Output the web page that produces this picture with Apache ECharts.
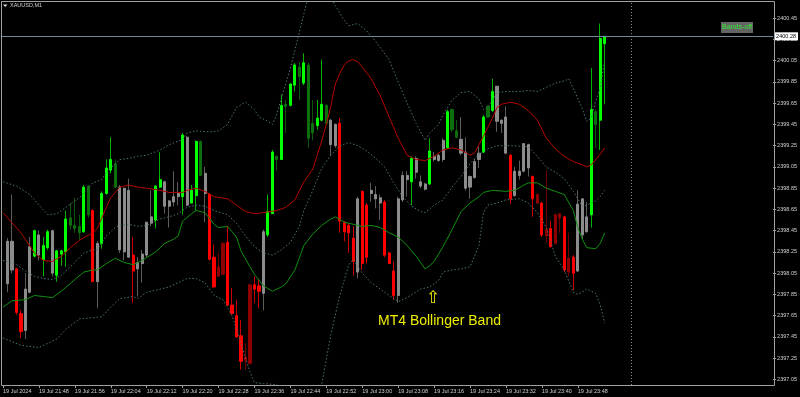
<!DOCTYPE html>
<html><head><meta charset="utf-8">
<script src="https://cdn.jsdelivr.net/npm/echarts@6/dist/echarts.min.js"></script>
<style>html,body{margin:0;padding:0;background:#000;}#c{width:800px;height:397px;}</style>
</head><body><div id="c"></div>
<script>
// ---------------- data ----------------
const symbolTitle = 'XAUUSD,M1';
const sessionDate = '19 Jul';
const sessionYear = '2024';
const firstSlot = '21:40';      // first minute slot on the time axis
const slotCount = 172;          // minute slots shown (incl. chart shift space)
const firstBar = '21:41';       // first visible candle
const separatorTime = '00:00';  // day separator
const bidPrice = 2400.28;
const noteText = 'MT4 Bollinger Band';
const buttonText = 'Bands-off';

const opens = [
2397.95,2398.35,2398.09,2397.67,2397.51,2397.87,2398.21,2398.41,2398.18,2398.29,
2398.45,2398.03,2398.23,2398.25,2398.57,2398.50,2398.49,2398.44,2398.87,2398.64,
2397.97,2398.33,2398.80,2399.02,2399.08,2398.86,2398.25,2398.83,2398.22,2398.09,
2398.14,2398.22,2398.52,2398.55,2398.86,2398.91,2398.68,2398.72,2398.77,2398.77,
2399.33,2398.71,2398.78,2399.29,2398.99,2398.79,2398.20,2398.02,2398.04,2398.34,
2397.75,2397.65,2397.46,2397.23,2397.20,2397.94,2397.93,2397.86,2398.41,2398.61,
2399.15,2399.12,2399.64,2399.63,2399.82,2399.99,2399.84,2400.01,2399.46,2399.44,
2399.49,2399.63,2399.49,2399.25,2399.46,2398.53,2398.50,2398.38,2398.06,2398.82,
2398.69,2398.80,2398.79,2398.76,2398.72,2398.24,2398.07,2397.84,2398.74,2398.97,
2398.91,2399.13,2398.91,2398.89,2398.89,2399.15,2399.11,2399.12,2399.23,2399.59,
2399.39,2399.31,2399.19,2398.86,2398.95,2399.12,2399.19,2399.62,2399.58,2399.81,
2399.49,2399.52,2399.16,2398.78,2399.01,2399.01,2399.26,2398.96,2398.71,2398.71,
2398.40,2398.47,2398.33,2398.57,2398.58,2398.06,2398.20,2398.07,2398.75,2398.44,
2398.60,2399.57,2399.49,2400.21];
const closes = [
2398.35,2398.08,2397.68,2397.50,2397.90,2398.30,2398.45,2398.22,2398.31,2398.44,
2398.05,2398.26,2398.26,2398.56,2398.50,2398.47,2398.43,2398.86,2398.60,2397.97,
2398.33,2398.80,2399.04,2399.12,2398.86,2398.27,2398.85,2398.20,2398.07,2398.15,
2398.23,2398.53,2398.58,2398.87,2398.93,2398.68,2398.73,2398.77,2398.80,2399.35,
2398.69,2398.83,2399.29,2398.97,2398.80,2398.18,2397.92,2398.11,2398.33,2397.75,
2397.67,2397.45,2397.22,2397.26,2397.94,2397.90,2397.88,2398.44,2398.63,2399.19,
2399.12,2399.63,2399.62,2399.83,2400.01,2399.90,2400.03,2399.32,2399.37,2399.51,
2399.64,2399.46,2399.26,2399.45,2398.54,2398.44,2398.43,2398.16,2398.75,2398.14,
2398.20,2398.83,2398.75,2398.71,2398.22,2398.14,2397.84,2398.75,2398.97,2398.93,
2399.13,2399.00,2398.87,2398.84,2399.20,2399.12,2399.16,2399.30,2399.57,2399.40,
2399.33,2399.18,2398.85,2398.96,2399.10,2399.18,2399.52,2399.52,2399.76,2399.48,
2399.46,2399.18,2398.75,2399.01,2398.97,2399.27,2399.04,2398.75,2398.79,2398.41,
2398.46,2398.30,2398.60,2398.61,2398.08,2398.19,2398.05,2398.70,2398.41,2398.58,
2399.59,2399.45,2400.26,2400.28];
const highs = [
2398.38,2398.79,2398.10,2397.70,2398.05,2398.39,2398.46,2398.45,2398.39,2398.46,
2398.46,2398.27,2398.27,2398.64,2398.71,2398.76,2398.60,2398.88,2398.88,2398.65,
2398.35,2398.82,2399.12,2399.33,2399.12,2398.88,2398.85,2398.94,2398.39,2398.20,
2398.27,2398.53,2398.83,2398.88,2399.19,2398.92,2398.74,2399.01,2398.91,2399.37,
2399.34,2398.88,2399.30,2399.30,2399.05,2398.80,2398.32,2398.24,2398.34,2398.49,
2397.91,2397.80,2397.61,2397.39,2397.95,2398.02,2398.00,2398.46,2398.79,2399.21,
2399.16,2399.73,2399.68,2399.84,2400.03,2400.04,2400.12,2400.03,2399.68,2399.68,
2400.06,2399.64,2399.50,2399.46,2399.51,2398.54,2398.52,2398.49,2398.77,2398.83,
2398.71,2398.90,2398.87,2398.79,2398.74,2398.25,2398.16,2398.77,2399.01,2399.01,
2399.15,2399.15,2398.97,2398.90,2399.32,2399.19,2399.17,2399.32,2399.59,2399.60,
2399.49,2399.52,2399.33,2398.97,2399.13,2399.24,2399.54,2399.63,2399.88,2399.81,
2399.50,2399.62,2399.17,2399.05,2399.11,2399.27,2399.27,2398.97,2398.80,2398.72,
2399.01,2398.54,2398.61,2398.61,2398.59,2398.43,2398.22,2398.83,2398.75,2398.72,
2399.98,2399.59,2400.40,2400.28];
const lows = [
2397.87,2398.05,2397.66,2397.44,2397.43,2397.86,2398.20,2398.17,2398.02,2398.27,
2398.02,2397.97,2398.12,2398.11,2398.46,2398.43,2398.36,2398.43,2398.57,2397.97,
2397.72,2398.28,2398.79,2398.99,2398.85,2398.24,2398.17,2398.20,2397.77,2397.83,
2397.96,2398.20,2398.49,2398.47,2398.85,2398.61,2398.48,2398.68,2398.69,2398.60,
2398.68,2398.71,2398.64,2398.97,2398.53,2398.17,2397.91,2398.02,2398.03,2397.74,
2397.66,2397.44,2397.14,2397.14,2397.19,2397.77,2397.72,2397.70,2398.39,2398.61,
2399.02,2399.12,2399.37,2399.62,2399.76,2399.68,2399.82,2399.23,2399.30,2399.40,
2399.48,2399.45,2399.15,2399.23,2398.43,2398.35,2398.24,2398.03,2398.00,2398.08,
2398.14,2398.72,2398.66,2398.55,2398.20,2398.14,2397.80,2397.77,2398.72,2398.77,
2398.69,2398.94,2398.85,2398.83,2398.88,2399.10,2399.10,2399.10,2399.22,2399.38,
2399.32,2399.16,2398.83,2398.75,2398.94,2399.04,2399.18,2399.51,2399.57,2399.38,
2399.37,2399.17,2398.70,2398.77,2398.93,2399.00,2398.96,2398.58,2398.70,2398.39,
2398.33,2398.29,2398.32,2398.43,2398.06,2398.02,2397.89,2398.06,2398.37,2398.43,
2398.48,2399.23,2399.21,2399.64];
// candle state: U up, u up-pullback, D down, d down-pullback, N neutral
const barState = [
'N','N','D','D','N','N','U','N','U','U',
'N','U','U','U','u','u','u','U','u','D',
'N','U','U','U','u','N','N','N','D','N',
'N','N','N','U','U','N','N','N','N','U',
'N','U','U','u','N','D','D','d','d','D',
'D','D','D','d','d','D','D','N','U','U',
'u','U','u','U','U','u','U','u','u','U',
'U','u','N','N','D','D','D','D','N','D',
'D','N','N','N','D','D','D','N','N','N',
'U','N','N','N','U','N','N','N','U','u',
'u','N','N','N','N','N','U','u','U','N',
'N','N','D','N','N','N','N','D','d','D',
'd','D','d','d','D','d','D','N','N','N',
'U','u','U','U'];

const bandUpperInner = [
['21:40',2398.62],['21:44',2398.43],['21:47',2398.24],['21:49',2398.17],['21:51',2398.16],['21:53',2398.21],
['21:55',2398.29],['21:57',2398.36],['22:00',2398.43],['22:01',2398.47],['22:03',2398.67],['22:04',2398.76],
['22:06',2398.86],['22:08',2398.88],['22:10',2398.86],['22:12',2398.85],['22:15',2398.83],['22:17',2398.81],
['22:20',2398.81],['22:21',2398.83],['22:23',2398.85],['22:25',2398.82],['22:27',2398.77],['22:30',2398.75],
['22:32',2398.69],['22:34',2398.63],['22:36',2398.61],['22:38',2398.62],['22:41',2398.64],['22:43',2398.67],
['22:45',2398.74],['22:47',2398.91],['22:49',2399.03],['22:51',2399.30],['22:52',2399.45],['22:53',2399.62],
['22:54',2399.83],['22:55',2399.93],['22:56',2400.01],['22:57',2400.05],['22:58',2400.06],['22:59',2400.04],
['23:00',2399.99],['23:02',2399.88],['23:04',2399.72],['23:06',2399.52],['23:08',2399.32],['23:10',2399.16],
['23:12',2399.12],['23:14',2399.11],['23:16',2399.15],['23:18',2399.21],['23:20',2399.23],['23:22',2399.21],
['23:24',2399.16],['23:25',2399.18],['23:26',2399.26],['23:27',2399.34],['23:29',2399.51],['23:30',2399.61],
['23:31',2399.64],['23:33',2399.66],['23:35',2399.64],['23:37',2399.58],['23:39',2399.49],['23:41',2399.32],
['23:43',2399.22],['23:45',2399.15],['23:47',2399.10],['23:49',2399.07],['23:50',2399.05],['23:51',2399.07],
['23:52',2399.12],['23:53',2399.17],['23:54',2399.23]];
const bandLowerInner = [
['21:40',2397.73],['21:42',2397.79],['21:45',2397.80],['21:47',2397.84],['21:49',2397.83],['21:51',2397.82],
['21:53',2397.88],['21:56',2397.99],['21:58',2398.06],['22:00',2398.08],['22:01',2398.08],['22:03',2398.14],
['22:05',2398.19],['22:07',2398.15],['22:09',2398.13],['22:11',2398.17],['22:14',2398.25],['22:16',2398.33],
['22:18',2398.37],['22:19',2398.40],['22:20',2398.54],['22:22',2398.61],['22:23',2398.64],['22:25',2398.62],
['22:27',2398.51],['22:28',2398.48],['22:30',2398.49],['22:32',2398.39],['22:33',2398.26],['22:35',2398.11],
['22:36',2398.04],['22:38',2397.93],['22:40',2397.88],['22:42',2397.92],['22:43',2397.95],['22:45',2398.08],
['22:47',2398.31],['22:49',2398.42],['22:51',2398.50],['22:53',2398.56],['22:54',2398.58],['22:56',2398.53],
['22:58',2398.51],['23:00',2398.49],['23:02',2398.50],['23:04',2398.48],['23:06',2398.43],['23:08',2398.39],
['23:10',2398.31],['23:12',2398.21],['23:14',2398.09],['23:15',2398.12],['23:16',2398.16],['23:18',2398.30],
['23:20',2398.46],['23:22',2398.63],['23:24',2398.71],['23:26',2398.77],['23:27',2398.81],['23:29',2398.83],
['23:32',2398.82],['23:34',2398.83],['23:36',2398.88],['23:37',2398.90],['23:39',2398.90],['23:41',2398.85],
['23:43',2398.82],['23:45',2398.79],['23:47',2398.64],['23:48',2398.48],['23:49',2398.37],['23:50',2398.29],
['23:52',2398.28],['23:53',2398.33],['23:54',2398.43]];
const bandUpperOuter = [
['21:40',2398.91],['21:43',2398.87],['21:46',2398.79],['21:48',2398.69],['21:50',2398.60],['21:52',2398.61],
['21:54',2398.67],['21:57',2398.76],['22:00',2398.90],['22:02',2398.93],['22:03',2399.00],['22:06',2399.12],
['22:08',2399.13],['22:10',2399.15],['22:12',2399.16],['22:15',2399.21],['22:17',2399.26],['22:20',2399.31],
['22:21',2399.37],['22:23',2399.39],['22:26',2399.38],['22:28',2399.39],['22:30',2399.45],['22:32',2399.61],
['22:34',2399.66],['22:36',2399.59],['22:37',2399.52],['22:39',2399.48],['22:40',2399.45],['22:41',2399.55],
['22:42',2399.70],['22:44',2399.98],['22:46',2400.32],['22:47',2400.49],['22:48',2400.66],['22:50',2400.79],
['22:52',2400.76],['22:53',2400.65],['22:54',2400.57],['22:56',2400.43],['22:57',2400.38],['22:58',2400.39],
['22:59',2400.40],['23:01',2400.33],['23:03',2400.23],['23:06',2400.06],['23:08',2399.85],['23:10',2399.65],
['23:12',2399.46],['23:14',2399.30],['23:15',2399.37],['23:17',2399.45],['23:18',2399.54],['23:20',2399.68],
['23:22',2399.75],['23:24',2399.76],['23:26',2399.69],['23:27',2399.59],['23:28',2399.61],['23:29',2399.68],
['23:30',2399.75],['23:32',2399.76],['23:35',2399.76],['23:37',2399.77],['23:39',2399.76],['23:41',2399.80],
['23:43',2399.84],['23:45',2399.86],['23:46',2399.88],['23:47',2399.79],['23:49',2399.60],['23:50',2399.48],
['23:51',2399.51],['23:52',2399.67],['23:53',2399.79],['23:54',2400.06]];
const bandMiddle = [
['21:40',2398.17],['21:43',2398.13],['21:45',2398.07],['21:47',2398.02],['21:49',2398.00],['21:51',2397.99],
['21:53',2398.03],['21:56',2398.15],['21:58',2398.24],['22:00',2398.27],['22:01',2398.27],['22:03',2398.40],
['22:05',2398.48],['22:06',2398.50],['22:08',2398.51],['22:10',2398.49],['22:12',2398.50],['22:15',2398.56],
['22:17',2398.58],['22:19',2398.61],['22:21',2398.67],['22:23',2398.69],['22:25',2398.68],['22:27',2398.64],
['22:30',2398.60],['22:32',2398.52],['22:34',2398.40],['22:36',2398.30],['22:38',2398.24],['22:40',2398.22],
['22:42',2398.27],['22:44',2398.34],['22:46',2398.49],['22:47',2398.64],['22:49',2398.83],['22:51',2399.04],
['22:53',2399.16],['22:55',2399.25],['22:57',2399.28],['22:59',2399.25],['23:01',2399.20],['23:03',2399.13],
['23:05',2399.05],['23:07',2398.90],['23:09',2398.77],['23:11',2398.68],['23:13',2398.63],['23:14',2398.62],
['23:16',2398.69],['23:18',2398.74],['23:20',2398.86],['23:22',2398.96],['23:24',2399.08],['23:26',2399.17],
['23:28',2399.22],['23:30',2399.25],['23:33',2399.25],['23:37',2399.24],['23:39',2399.15],['23:41',2399.05],
['23:43',2399.00],['23:45',2398.94],['23:47',2398.82],['23:49',2398.68],['23:50',2398.69],['23:52',2398.73],
['23:53',2398.77],['23:54',2398.83]];
const bandLowerOuter = [
['21:40',2397.44],['21:44',2397.37],['21:48',2397.35],['21:52',2397.43],['21:54',2397.52],['21:57',2397.62],
['22:00',2397.63],['22:02',2397.64],['22:04',2397.73],['22:06',2397.81],['22:09',2397.83],['22:10',2397.81],
['22:12',2397.87],['22:15',2397.90],['22:17',2397.92],['22:19',2397.96],['22:21',2398.00],['22:23',2398.00],
['22:25',2397.96],['22:27',2397.84],['22:29',2397.80],['22:31',2397.65],['22:33',2397.39],['22:34',2397.25],
['22:35',2397.12],['22:36',2397.02],['22:38',2397.01],['22:41',2397.00],['22:43',2396.93],['22:46',2396.86],
['22:49',2396.90],['22:51',2397.01],['22:53',2397.47],['22:55',2397.84],['22:57',2398.13],['22:58',2398.18],
['23:00',2398.05],['23:02',2397.96],['23:05',2397.87],['23:08',2397.78],['23:10',2397.82],['23:13',2397.90],
['23:15',2397.92],['23:17',2397.98],['23:18',2398.06],['23:20',2398.08],['23:22',2398.09],['23:24',2398.11],
['23:26',2398.31],['23:27',2398.62],['23:28',2398.69],['23:30',2398.71],['23:32',2398.74],['23:35',2398.75],
['23:37',2398.71],['23:39',2398.62],['23:41',2398.48],['23:43',2398.21],['23:45',2398.08],['23:47',2397.87],
['23:48',2397.85],['23:49',2397.87],['23:50',2397.90],['23:52',2397.86],['23:53',2397.75],['23:54',2397.58]];

const priceTicks = [2397.05,2397.25,2397.45,2397.65,2397.85,2398.05,2398.25,2398.45,2398.65,
  2398.85,2399.05,2399.25,2399.45,2399.65,2399.85,2400.05,2400.25,2400.45];
const priceMin = 2396.997, priceMax = 2400.603;

// ---------------- build ----------------
function addMin(t, m) {
  const p = t.split(':').map(Number);
  const tot = ((p[0] * 60 + p[1] + m) % 1440 + 1440) % 1440;
  return String(Math.floor(tot / 60)).padStart(2, '0') + ':' + String(tot % 60).padStart(2, '0');
}
const categories = Array.from({length: slotCount}, (_, i) => addMin(firstSlot, i));
const barOffset = categories.indexOf(firstBar);
const lastBarIndex = barOffset + opens.length - 1;

const stateStyle = {
  U: {body: '#00ff00', wick: '#00b400'},
  u: {body: '#0c6e0c', wick: '#0a560a'},
  D: {body: '#ff0000', wick: '#c80000'},
  d: {body: '#8e0000', wick: '#6e0000'},
  N: {body: '#8c8c8c', wick: '#5c5c5c'}
};
function sty(c) { return {color: c, color0: c, borderColor: c, borderColor0: c, borderColorDoji: c}; }
const wickData = [], bodyData = [];
for (let i = 0; i < barOffset; i++) { wickData.push(['-','-','-','-']); bodyData.push(['-','-','-','-']); }
opens.forEach((o, i) => {
  const c = closes[i], st = stateStyle[barState[i]];
  wickData.push({value: [o, c, lows[i], highs[i]], itemStyle: sty(st.wick)});
  bodyData.push({value: [o, c, Math.min(o, c), Math.max(o, c)], itemStyle: sty(st.body)});
});

const showSlot = (idx) => idx % 8 === 0 && idx <= lastBarIndex;
const font = 'Liberation Sans, Arial, sans-serif';
const axisTextColor = '#d0d0d0';

function bandSeries(data, color, dotted) {
  return {
    type: 'line', data: data, symbol: 'none', silent: true, z: 5, animation: false,
    lineStyle: {color: color, width: 1, type: dotted ? [1.5, 2] : 'solid'}
  };
}

const chart = echarts.init(document.getElementById('c'), null, {renderer: 'canvas', width: 800, height: 397});
chart.setOption({
  animation: false,
  backgroundColor: '#000000',
  grid: {left: 0, top: 2, width: 774, height: 383},
  xAxis: {
    type: 'category', data: categories, boundaryGap: true,
    axisLine: {show: false},
    axisTick: {show: true, alignWithLabel: true, interval: showSlot, length: 3, lineStyle: {color: '#a0a0a0'}},
    axisLabel: {
      interval: showSlot, align: 'left', margin: 3, fontSize: 5.5, fontFamily: font, color: axisTextColor,
      formatter: (v, idx) => idx === 0 ? sessionDate + ' ' + sessionYear : sessionDate + ' ' + v
    },
    splitLine: {show: false}
  },
  yAxis: {
    type: 'value', position: 'right', min: priceMin, max: priceMax, scale: true,
    axisLine: {show: false}, splitLine: {show: false},
    axisTick: {show: true, customValues: priceTicks, length: 3, lineStyle: {color: '#a0a0a0'}},
    axisLabel: {customValues: priceTicks, margin: 4, fontSize: 5.5, fontFamily: font, color: axisTextColor,
      formatter: v => Number(v).toFixed(2)}
  },
  series: [
    {type: 'candlestick', data: wickData, barWidth: 0, z: 3, silent: true, itemStyle: {borderWidth: 1}},
    {type: 'candlestick', data: bodyData, barWidth: 2.6, z: 4, silent: true, itemStyle: {borderWidth: 1},
     markLine: {
       symbol: 'none', silent: true, animation: false,
       data: [
         {yAxis: bidPrice, lineStyle: {color: '#778899', width: 1, type: 'solid'},
          label: {show: true, position: 'end', distance: 1, formatter: bidPrice.toFixed(2),
                  backgroundColor: '#ffffff', color: '#000000', fontSize: 5.5, fontFamily: font, padding: [1, 2]}},
         {xAxis: separatorTime, lineStyle: {color: '#8a8a8a', width: 1, type: [1, 2]}, label: {show: false}}
       ]
     }},
    bandSeries(bandUpperOuter, '#4f7272', true),
    bandSeries(bandMiddle, '#4f7272', true),
    bandSeries(bandLowerOuter, '#4f7272', true),
    bandSeries(bandUpperInner, '#b80000', false),
    bandSeries(bandLowerInner, '#109010', false)
  ],
  graphic: [
    {type: 'rect', silent: true, z: 100, shape: {x: 1.5, y: 1.5, width: 773, height: 384},
     style: {fill: 'none', stroke: '#a0a0a0', lineWidth: 1}},
    {type: 'polygon', silent: true, z: 100, shape: {points: [[3, 4.5], [7.5, 4.5], [5.25, 7]]}, style: {fill: '#dddddd'}},
    {type: 'text', silent: true, z: 100, x: 10, y: 5.8,
     style: {text: symbolTitle, fill: axisTextColor, fontSize: 5.5, fontFamily: font, verticalAlign: 'middle'}},
    {type: 'rect', silent: true, z: 100, shape: {x: 721, y: 22, width: 32, height: 11}, style: {fill: '#646464'}},
    {type: 'text', silent: true, z: 101, x: 737, y: 27.5,
     style: {text: buttonText, fill: '#33ee33', fontSize: 7, fontFamily: font, align: 'center', verticalAlign: 'middle'}},
    {type: 'text', silent: true, z: 100, x: 433, y: 299,
     style: {text: '\u21E7', fill: '#eeee00', fontSize: 17, fontFamily: 'DejaVu Sans', align: 'center', verticalAlign: 'middle'}},
    {type: 'text', silent: true, z: 100, x: 378, y: 321,
     style: {text: noteText, fill: '#eeee00', fontSize: 14, fontFamily: font, verticalAlign: 'middle'}}
  ]
});
</script>
</body></html>
